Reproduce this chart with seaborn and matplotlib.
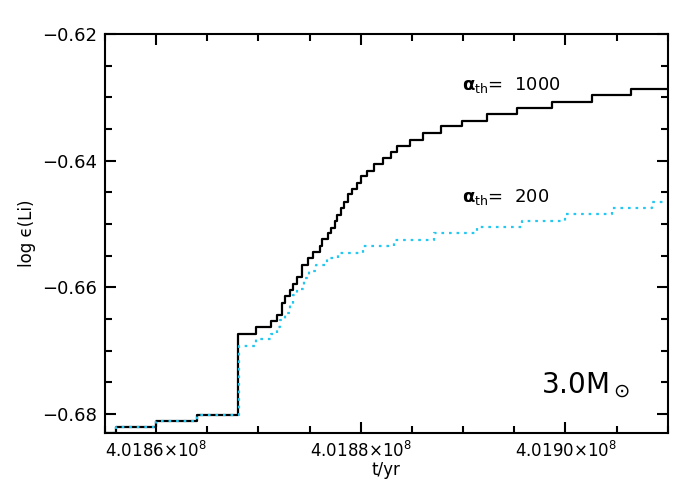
import numpy as np
import seaborn as sns
from matplotlib import pyplot as plt
import matplotlib.ticker as mtick

# time (yr) where each step starts, and the Li abundance on that step
t_1000 = [401855000, 401856070, 401859980, 401863990, 401868020, 401869720,
          401871190, 401871770, 401872260, 401872580, 401873070, 401873400,
          401873730, 401874220, 401874860, 401875350, 401876000, 401876230,
          401876810, 401877080, 401877470, 401877690, 401878030, 401878380,
          401878770, 401879100, 401879590, 401880010, 401880570, 401881280,
          401882130, 401882910, 401883560, 401884800, 401886100, 401887800,
          401889910, 401892350, 401895280, 401898700, 401902600, 401906360,
          401910000]
li_1000 = [-0.6830, -0.6820, -0.6811, -0.6801, -0.6673, -0.6663,
           -0.6653, -0.6643, -0.6624, -0.6613, -0.6604, -0.6594,
           -0.6583, -0.6565, -0.6554, -0.6545, -0.6535, -0.6524,
           -0.6515, -0.6507, -0.6495, -0.6486, -0.6475, -0.6465,
           -0.6453, -0.6445, -0.6436, -0.6425, -0.6416, -0.6405,
           -0.6396, -0.6387, -0.6377, -0.6367, -0.6356, -0.6346,
           -0.6337, -0.6326, -0.6317, -0.6307, -0.6296, -0.6287,
           -0.6287]

t_200 = [401855000, 401856070, 401859980, 401863990, 401868120, 401869720,
         401871220, 401871770, 401872100, 401872580, 401873070, 401873400,
         401873730, 401874440, 401874930, 401875610, 401876660, 401877790,
         401880180, 401883230, 401887140, 401891370, 401895710, 401900000,
         401904560, 401908470, 401910000]
li_200 = [-0.6830, -0.6820, -0.6811, -0.6801, -0.6693, -0.6682,
          -0.6673, -0.6662, -0.6652, -0.6641, -0.6628, -0.6612,
          -0.6602, -0.6586, -0.6575, -0.6565, -0.6554, -0.6546,
          -0.6535, -0.6525, -0.6515, -0.6504, -0.6495, -0.6485,
          -0.6474, -0.6465, -0.6465]

sns.set_theme(style="ticks")
plt.rcParams['font.family'] = ['DejaVu Sans']
plt.rcParams['text.color'] = 'black'
plt.rcParams['axes.labelcolor'] = 'black'
plt.rcParams['xtick.color'] = 'black'
plt.rcParams['ytick.color'] = 'black'

fig = plt.figure(figsize=(7, 5), dpi=100)
ax = fig.add_axes([0.15, 0.134, 0.804, 0.798])

sns.lineplot(x=t_1000, y=li_1000, ax=ax, color="black", linewidth=1.6,
             drawstyle="steps-post", estimator=None, sort=False)
sns.lineplot(x=t_200, y=li_200, ax=ax, color="#22c8f0", linewidth=1.6,
             linestyle=(0, (1.2, 2.2)), drawstyle="steps-post",
             estimator=None, sort=False)

ax.set_xlim(401855000, 401910000)
ax.set_ylim(-0.683, -0.62)

ax.xaxis.set_major_locator(mtick.MultipleLocator(20000))
ax.xaxis.set_minor_locator(mtick.MultipleLocator(5000))
ax.yaxis.set_major_locator(mtick.MultipleLocator(0.02))
ax.yaxis.set_minor_locator(mtick.MultipleLocator(0.005))


def sci_fmt(x, pos):
    return f"{x / 1e8:.4f}" + r"$\times$10$^8$"


def y_fmt(y, pos):
    return f"{y:.2f}".replace("-", "\u2212")


ax.xaxis.set_major_formatter(mtick.FuncFormatter(sci_fmt))
ax.yaxis.set_major_formatter(mtick.FuncFormatter(y_fmt))

ax.tick_params(which="both", direction="in", top=True, right=True,
               width=1.5, pad=6, color="black")
ax.tick_params(axis="y", labelsize=13)
ax.tick_params(axis="x", labelsize=12)
ax.tick_params(which="major", length=8)
ax.tick_params(which="minor", length=5)
for s in ax.spines.values():
    s.set_linewidth(1.5)
    s.set_color("black")

ax.set_xlabel("t/yr", fontsize=12, labelpad=0)
ax.set_ylabel("log ϵ(Li)", fontsize=12, labelpad=4)

ax.text(401889900, -0.6288, r"$\mathbf{\alpha}_{\rm th}$=  1000", fontsize=13)
ax.text(401889900, -0.6466, r"$\mathbf{\alpha}_{\rm th}$=  200", fontsize=13)
ax.text(401897600, -0.6767, r"3.0M$_\odot$", fontsize=20)

fig.savefig("out.png", dpi=100)
